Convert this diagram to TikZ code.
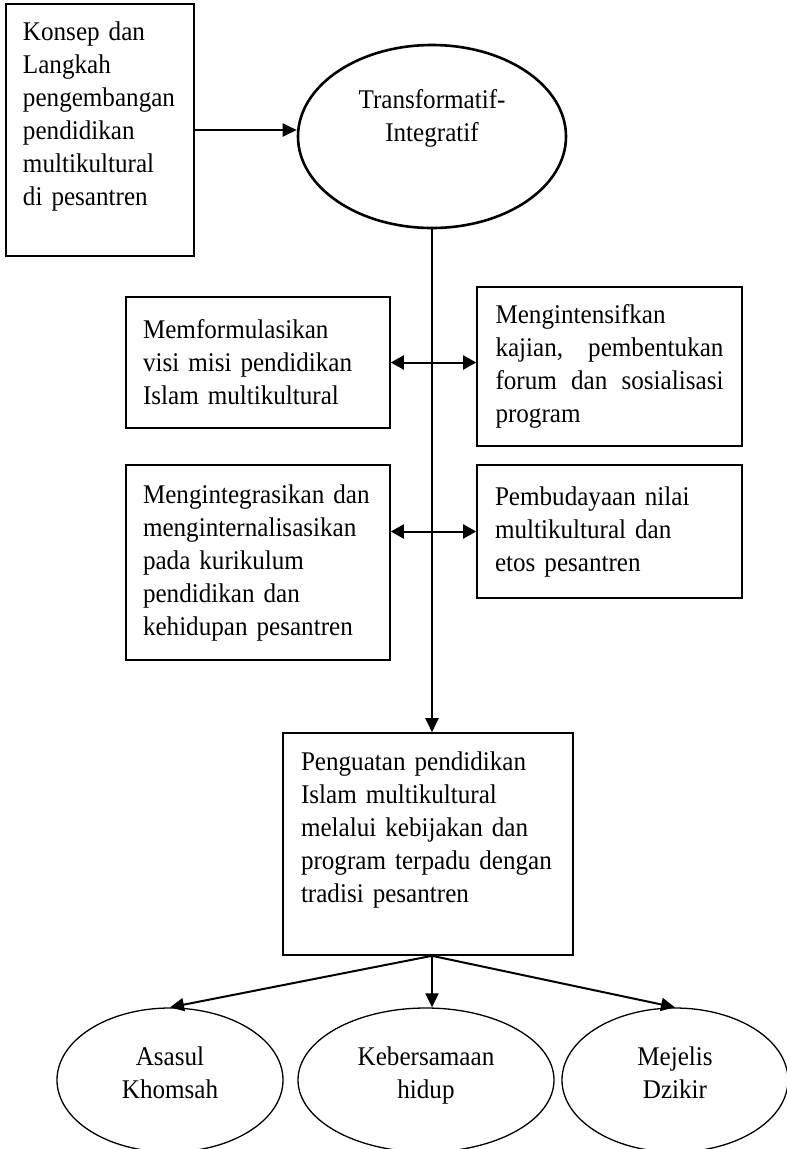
\documentclass[tikz,border=0pt]{standalone}
\usepackage{fontspec}
\setmainfont[FakeStretch=0.93]{Liberation Serif}
\usetikzlibrary{shapes.geometric,arrows.meta}
\hyphenpenalty=10000
\exhyphenpenalty=10000
\newcommand{\teks}{\fontsize{27}{33}\selectfont}
\tikzset{
  kotak/.style={draw,rectangle,line width=1.6pt,align=left,inner ysep=0pt,font=\teks},
  elips/.style={draw,ellipse,line width=1.3pt,align=center,inner sep=0pt,font=\teks},
  panah/.style={line width=2pt,-{Triangle[length=14pt,width=13pt]}},
  panahdua/.style={line width=2pt,{Triangle[length=13pt,width=14pt]}-{Triangle[length=13pt,width=14pt]}}
}
\begin{document}
\begin{tikzpicture}[x=1pt,y=-1pt]
\useasboundingbox (0,0) rectangle (787,1149);
\node [kotak,inner xsep=17pt,text width=154pt,minimum width=188pt,minimum height=252pt] (konsep) at (100,130) {Konsep dan\\Langkah\\pengembangan\\pendidikan\\multikultural\\di pesantren\\ \mbox{}};
\node [elips,line width=2.6pt,minimum width=268pt,minimum height=183pt] (trans) at (432,136.5) {Transformatif-\\Integratif\\[10pt] \mbox{}};
\node [kotak,inner xsep=17pt,text width=230pt,minimum width=264pt,minimum height=131pt] (formulasi) at (258,362.5) {Memformulasikan\\visi misi pendidikan\\Islam multikultural};
\node [kotak,align=justify,inner xsep=18.5pt,text width=228pt,minimum width=265pt,minimum height=159pt] (intensif) at (609.5,366.5) {Mengintensifkan kajian, pembentukan forum dan sosialisasi program};
\node [kotak,inner xsep=17pt,text width=230pt,minimum width=264pt,minimum height=195pt] (integrasi) at (258,562.5) {Mengintegrasikan dan\\menginternalisasikan\\pada kurikulum\\pendidikan dan\\kehidupan pesantren};
\node [kotak,inner xsep=18pt,text width=229pt,minimum width=265pt,minimum height=133pt] (budaya) at (609.5,531.5) {Pembudayaan nilai\\multikultural dan\\etos pesantren};
\node [kotak,inner xsep=18pt,text width=254pt,minimum width=290pt,minimum height=222pt] (penguatan) at (428,844) {Penguatan pendidikan\\Islam multikultural\\melalui kebijakan dan\\program terpadu dengan\\tradisi pesantren\\ \mbox{}};
\node [elips,minimum width=226pt,minimum height=144pt] (asasul) at (170,1080) {Asasul\\Khomsah\\[-19pt] \mbox{}};
\node [elips,minimum width=256pt,minimum height=144pt] (kebersamaan) at (426,1080) {Kebersamaan\\hidup\\[-19pt] \mbox{}};
\node [elips,minimum width=226pt,minimum height=144pt] (mejelis) at (675,1080) {Mejelis\\Dzikir\\[-19pt] \mbox{}};
\coordinate (cabang) at (trans.south |- penguatan.south);
\draw [panah] (konsep.east) -- (konsep.east -| trans.west);
\draw [panah] (trans.south) -- (trans.south |- penguatan.north);
\draw [panahdua] (formulasi.east) -- (formulasi.east -| intensif.west);
\draw [panahdua] (budaya.west -| integrasi.east) -- (budaya.west);
\draw [panah] (cabang) -- (asasul.north);
\draw [panah] (cabang) -- (cabang |- kebersamaan.north);
\draw [panah] (cabang) -- (mejelis.north);
\end{tikzpicture}
\end{document}
